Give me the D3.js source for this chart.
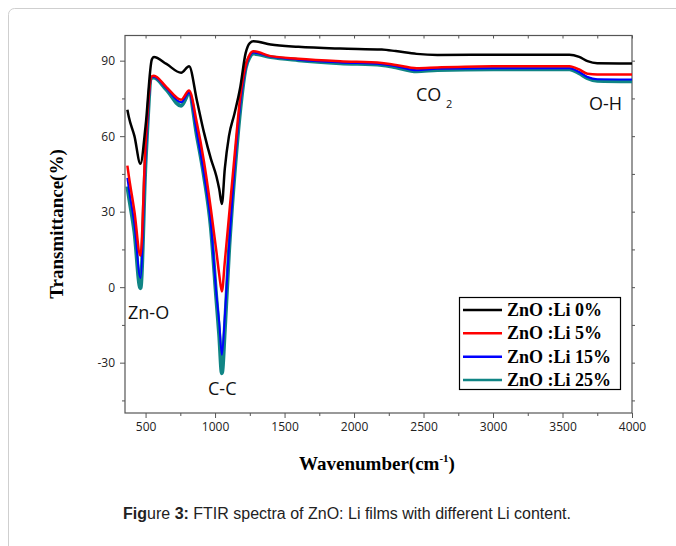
<!DOCTYPE html>
<html>
<head>
<meta charset="utf-8">
<script src="https://cdn.jsdelivr.net/npm/d3@7"></script>
<style>
  body { margin: 0; background: #fff; }
  .tick text { font-family: "Open Sans", sans-serif; font-size: 12px; fill: #222; }
  .tick line { stroke: #555; }
</style>
</head>
<body>
<script>
// wavenumber grid (cm-1) shared by all four spectra
var wavenumbers = [369, 380, 420, 463, 500, 545, 560, 650, 756, 813, 870, 920, 970, 1010, 1030, 1049, 1070, 1100, 1140, 1180, 1220, 1250, 1276, 1400, 1600, 1900, 2200, 2300, 2450, 2600, 3000, 3550, 3620, 3680, 3750, 4000];

var li0  = [70.5, 67.5, 60, 49, 64, 90.5, 91.5, 88.7, 85.2, 87.8, 74, 61.5, 51, 44, 39, 33, 47, 60, 69, 79, 93, 97, 97.7, 96.4, 95.5, 94.8, 94.4, 93.8, 92.7, 92.3, 92.4, 92.4, 91.5, 89.8, 89.0, 88.9];
var li5  = [48.3, 44, 30, 12.5, 57, 83.8, 84, 79.5, 74.5, 78.1, 65, 50, 31, 14, 5, -1.7, 10, 28, 52, 75, 88, 92.5, 93.7, 91.8, 90.8, 89.8, 89.1, 88.3, 87.0, 87.3, 87.8, 87.8, 86.5, 84.8, 84.5, 84.5];
var li15 = [43.4, 39, 25, 3.6, 52, 83.5, 83.6, 79, 73.5, 77.3, 61, 45, 25, -3, -14, -26.9, -12, 16, 47, 72, 87, 92, 93.2, 91.6, 90.4, 89.3, 88.6, 87.8, 86.2, 86.8, 87.0, 87.0, 85.5, 83.5, 82.6, 82.5];
var li25 = [40, 36, 22, -0.4, 50, 83.2, 83.3, 78.5, 72.1, 76.9, 60, 44.3, 23.7, -5, -19, -34.2, -17, 14, 45, 70, 87, 91.5, 92.8, 91.4, 90.2, 89.0, 88.3, 87.4, 85.8, 86.3, 86.6, 86.6, 85, 83, 82, 81.8];

var seriesNames = ["ZnO :Li 0%", "ZnO :Li 5%", "ZnO :Li 15%", "ZnO :Li 25%"];
var seriesColors = ["#000000", "#ff0000", "#0000ff", "#108585"];
var seriesWidths = [2.5, 2.5, 2, 4];

var xMajor = [500, 1000, 1500, 2000, 2500, 3000, 3500, 4000];
var xMinor = [750, 1250, 1750, 2250, 2750, 3250, 3750];
var yMajor = [-30, 0, 30, 60, 90];
var yMinor = [-45, -15, 15, 45, 75];

var W = 676, H = 546;
var plotL = 125, plotR = 632, plotT = 35.5, plotB = 413;

var svg = d3.select("body").append("svg")
  .attr("width", W)
  .attr("height", H);

// outer page box
svg.append("rect")
  .attr("x", 8.5).attr("y", 8.5)
  .attr("width", 700).attr("height", 600)
  .attr("rx", 6)
  .attr("fill", "none")
  .attr("stroke", "#cfcfcf");

var x = d3.scaleLinear().domain([352, 4000]).range([plotL, plotR]);
var y = d3.scaleLinear().domain([-50, 100]).range([plotB, plotT]);
var plain = function(d) { return String(d); };

// axes
svg.append("g")
  .attr("transform", "translate(0," + plotB + ")")
  .call(d3.axisBottom(x).tickValues(xMajor).tickSize(5).tickPadding(4).tickFormat(plain))
  .call(function(g) { g.select(".domain").remove(); });

svg.append("g")
  .attr("transform", "translate(0," + plotB + ")")
  .call(d3.axisBottom(x).tickValues(xMinor).tickSize(3).tickFormat(""))
  .call(function(g) { g.select(".domain").remove(); });

svg.append("g")
  .attr("transform", "translate(0," + plotT + ")")
  .call(d3.axisBottom(x).tickValues(xMajor.concat(xMinor)).tickSize(3).tickFormat(""))
  .call(function(g) { g.select(".domain").remove(); });

svg.append("g")
  .attr("transform", "translate(" + plotL + ",0)")
  .call(d3.axisLeft(y).tickValues(yMajor).tickSize(5).tickPadding(5).tickFormat(plain))
  .call(function(g) { g.select(".domain").remove(); });

svg.append("g")
  .attr("transform", "translate(" + plotL + ",0)")
  .call(d3.axisLeft(y).tickValues(yMinor).tickSize(3).tickFormat(""))
  .call(function(g) { g.select(".domain").remove(); });

svg.append("g")
  .attr("transform", "translate(" + plotR + ",0)")
  .call(d3.axisRight(y).tickValues(yMajor.concat(yMinor)).tickSize(3).tickFormat(""))
  .call(function(g) { g.select(".domain").remove(); });

svg.append("rect")
  .attr("x", plotL).attr("y", plotT)
  .attr("width", plotR - plotL).attr("height", plotB - plotT)
  .attr("fill", "none")
  .attr("stroke", "#555")
  .attr("stroke-width", 1.2);

// spectra
var line = d3.line()
  .x(function(d) { return x(d[0]); })
  .y(function(d) { return y(d[1]); })
  .curve(d3.curveMonotoneX);

var allSeries = [li0, li5, li15, li25];
var drawOrder = [3, 2, 1, 0];

drawOrder.forEach(function(i) {
  var pts = wavenumbers.map(function(w, k) { return [w, allSeries[i][k]]; });
  svg.append("path")
    .attr("d", line(pts))
    .attr("fill", "none")
    .attr("stroke", seriesColors[i])
    .attr("stroke-width", seriesWidths[i])
    .attr("stroke-linejoin", "round");
});

// band labels
var ann = svg.append("g")
  .style("font-family", "'Open Sans', sans-serif")
  .style("font-size", "18px")
  .attr("fill", "#111");
ann.append("text").attr("x", 128).attr("y", 319).text("Zn-O");
ann.append("text").attr("x", 208).attr("y", 395).text("C-C");
var co2 = ann.append("text").attr("x", 416).attr("y", 101);
co2.append("tspan").text("CO");
co2.append("tspan").attr("x", 446).attr("y", 108).style("font-size", "11px").text("2");
ann.append("text").attr("x", 589).attr("y", 110).text("O-H");

// legend
var legend = svg.append("g");
legend.append("rect")
  .attr("x", 459.5).attr("y", 297.5)
  .attr("width", 161).attr("height", 92)
  .attr("fill", "#fff")
  .attr("stroke", "#000")
  .attr("stroke-width", 1.2);

var rowY = d3.scalePoint().domain(seriesNames).range([310, 380]);

seriesNames.forEach(function(name, i) {
  legend.append("line")
    .attr("x1", 463).attr("x2", 502)
    .attr("y1", rowY(name)).attr("y2", rowY(name))
    .attr("stroke", seriesColors[i])
    .attr("stroke-width", 2.5);
  legend.append("text")
    .attr("x", 507)
    .attr("y", rowY(name) + 6)
    .style("font-family", "'Liberation Serif', 'Times New Roman', serif")
    .style("font-weight", "bold")
    .style("font-size", "18px")
    .text(name);
});

// axis titles
var xt = svg.append("text")
  .attr("x", 377).attr("y", 470)
  .attr("text-anchor", "middle")
  .style("font-family", "'Liberation Serif', 'Times New Roman', serif")
  .style("font-weight", "bold")
  .style("font-size", "19px");
xt.append("tspan").text("Wavenumber(cm");
xt.append("tspan").attr("dy", -8).style("font-size", "11px").text("-1");
xt.append("tspan").attr("dy", 8).text(")");

svg.append("text")
  .attr("transform", "translate(63,224) rotate(-90)")
  .attr("text-anchor", "middle")
  .style("font-family", "'Liberation Serif', 'Times New Roman', serif")
  .style("font-weight", "bold")
  .style("font-size", "19px")
  .text("Transmittance(%)");

// caption
var cap = svg.append("text")
  .attr("x", 347).attr("y", 519)
  .attr("text-anchor", "middle")
  .style("font-family", "'Liberation Sans', Arial, sans-serif")
  .style("font-size", "16px")
  .attr("fill", "#222");
cap.append("tspan").style("font-weight", "bold").text("Fig");
cap.append("tspan").text("ure ");
cap.append("tspan").style("font-weight", "bold").text("3:");
cap.append("tspan").text(" FTIR spectra of ZnO: Li films with different Li content.");
</script>
</body>
</html>
